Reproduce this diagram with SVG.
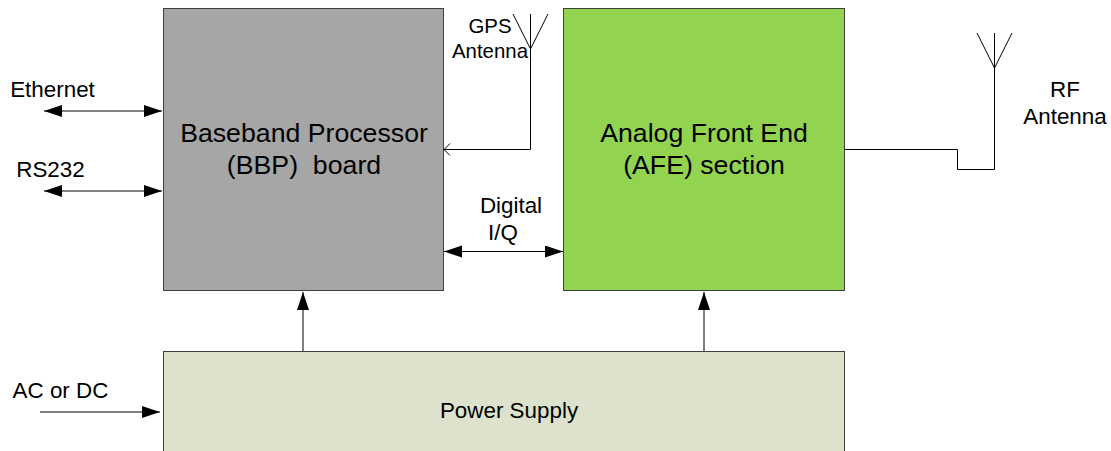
<svg xmlns="http://www.w3.org/2000/svg" width="1111" height="451" viewBox="0 0 1111 451">
<style>
text{font-family:"Liberation Sans",Arial,sans-serif;fill:#000;text-anchor:middle;white-space:pre}
.s{font-size:20.4px}
.b{font-size:26.7px}
.m{font-size:22.4px}
.box{stroke:#404040;stroke-width:1}
.c{fill:none;stroke:#000;stroke-width:1}
</style>
<defs>
<marker id="a" markerUnits="userSpaceOnUse" markerWidth="19" markerHeight="13" refX="18" refY="6" orient="auto-start-reverse"><path d="M0 0L18 6L0 12Z" fill="#000"/></marker>
</defs>
<rect width="1111" height="451" fill="#fff"/>
<g id="bbp"><rect class="box" x="163.500" y="8.500" width="280" height="282" fill="#a6a6a6"/>
<text class="b" x="304" y="142">Baseband Processor</text><text class="b" x="304" y="174">(BBP)  board</text></g>
<g id="afe"><rect class="box" x="563.500" y="8.500" width="281" height="282" fill="#92d450"/>
<text class="b" x="704" y="142">Analog Front End</text><text class="b" x="704" y="174">(AFE) section</text></g>
<g id="psu"><rect class="box" x="163.500" y="351.500" width="681" height="101" fill="#dde2cc"/>
<text class="m" x="509" y="418">Power Supply</text></g>
<g id="connectors">
<path class="c" marker-start="url(#a)" marker-end="url(#a)" d="M44 111H162"/>
<path class="c" marker-start="url(#a)" marker-end="url(#a)" d="M44 191H162"/>
<path class="c" marker-end="url(#a)" d="M40 412H160"/>
<path class="c" marker-start="url(#a)" marker-end="url(#a)" d="M444 251.500H563"/>
<path class="c" marker-end="url(#a)" d="M303 351V292"/>
<path class="c" marker-end="url(#a)" d="M704 351V292"/>
<path class="c" d="M530.500 14V149.500H444M450 143.500L444 149.500L450 155.500M513 14L530.500 49L548 14"/>
<path class="c" d="M845 149.500H957.500V169.500H994.500V33M977 33L994.500 68L1012 33"/>
</g>
<g id="labels">
<text class="s" x="490" y="33">GPS</text><text class="s" x="490" y="58">Antenna</text>
<text class="m" x="1065" y="97">RF</text><text class="m" x="1065" y="124">Antenna</text>
<text class="m" x="52.500" y="97">Ethernet</text><text class="m" x="50.500" y="177">RS232</text>
<text class="m" x="511" y="213">Digital</text><text class="m" x="503" y="240">I/Q</text>
<text class="m" x="60.500" y="398">AC or DC</text>
</g>
</svg>
